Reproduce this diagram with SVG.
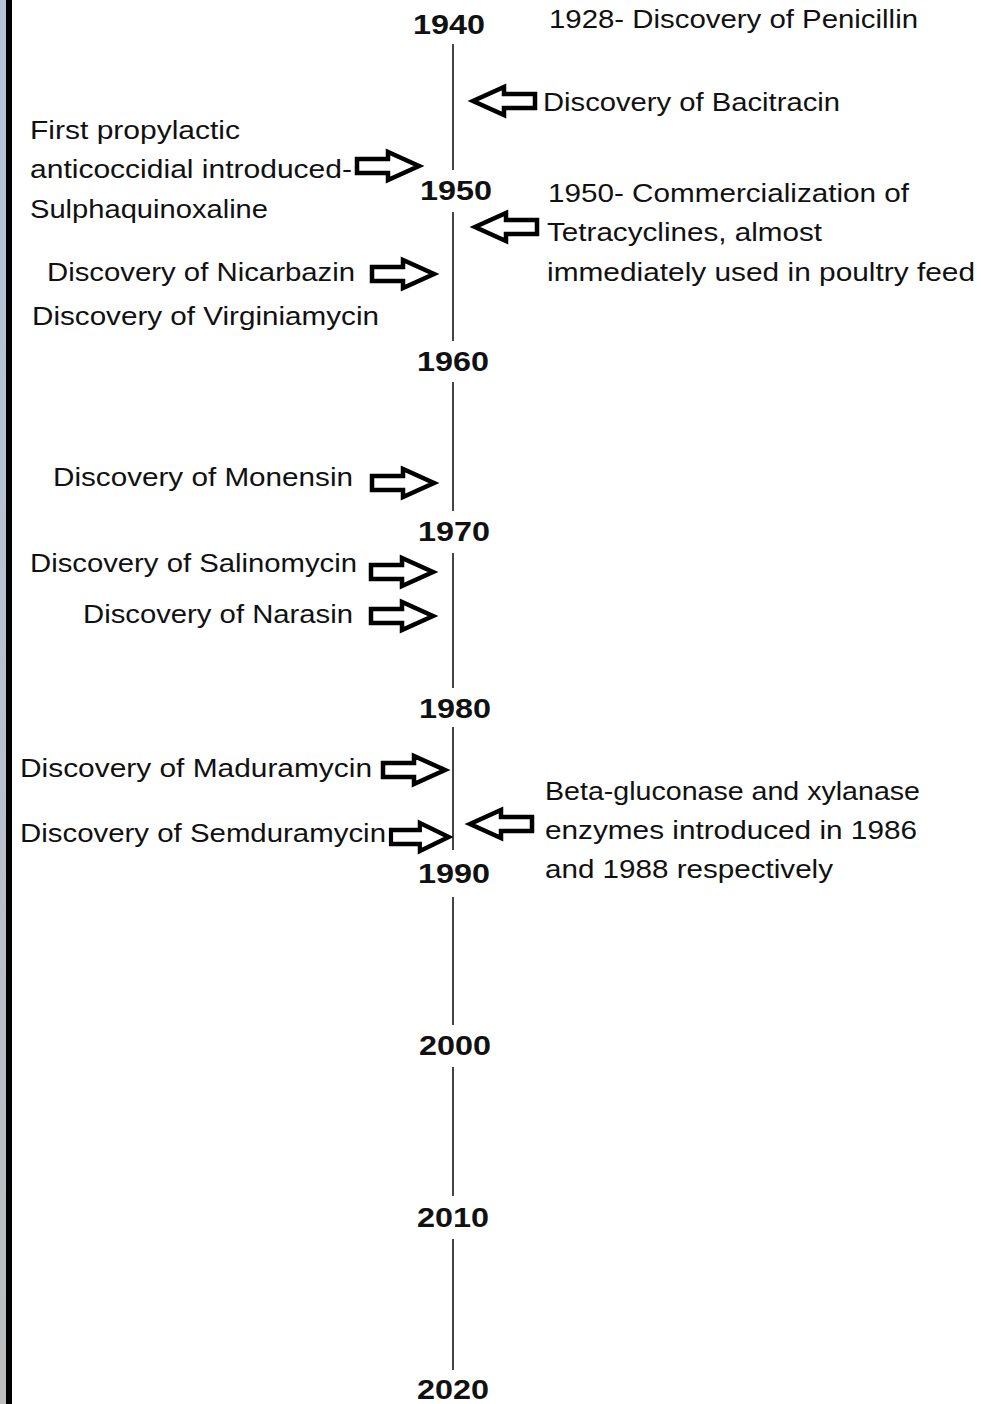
<svg xmlns="http://www.w3.org/2000/svg" width="981" height="1404" viewBox="0 0 981 1404">
<defs>
<linearGradient id="edge" x1="0" y1="0" x2="0" y2="1">
<stop offset="0" stop-color="#b6c5dc"/>
<stop offset="0.5" stop-color="#b9c2cf"/>
<stop offset="1" stop-color="#bdbdbd"/>
</linearGradient>
<path id="ra" d="M0,-7 H31 V-14 L62,0 L31,14 V7 H0 Z"/>
</defs>
<style>
.t{font-family:"Liberation Sans",Arial,sans-serif;font-size:26px;fill:#111}
.y{font-family:"Liberation Sans",Arial,sans-serif;font-size:28px;font-weight:bold;fill:#111;text-anchor:middle}
.ax{stroke:#444;stroke-width:2;fill:none}
.ar{fill:#fff;stroke:#000;stroke-width:4.5;stroke-linejoin:miter}
</style>
<rect width="981" height="1404" fill="#fff"/>
<rect x="0" y="0" width="6" height="1404" fill="url(#edge)"/>
<rect x="6" y="0" width="6" height="1404" fill="#000"/>

<g id="axis">
<line class="ax" x1="453" y1="44" x2="453" y2="170"/>
<line class="ax" x1="453" y1="212" x2="453" y2="341"/>
<line class="ax" x1="453" y1="382" x2="453" y2="511"/>
<line class="ax" x1="453" y1="553" x2="453" y2="688"/>
<line class="ax" x1="453" y1="727" x2="453" y2="850"/>
<line class="ax" x1="453" y1="897" x2="453" y2="1025"/>
<line class="ax" x1="453" y1="1067" x2="453" y2="1196"/>
<line class="ax" x1="453" y1="1239" x2="453" y2="1370"/>
</g>

<g id="years">
<text class="y" x="449" y="34" textLength="72" lengthAdjust="spacingAndGlyphs">1940</text>
<text class="y" x="456" y="200" textLength="72" lengthAdjust="spacingAndGlyphs">1950</text>
<text class="y" x="453" y="371" textLength="72" lengthAdjust="spacingAndGlyphs">1960</text>
<text class="y" x="454" y="541" textLength="72" lengthAdjust="spacingAndGlyphs">1970</text>
<text class="y" x="455" y="718" textLength="72" lengthAdjust="spacingAndGlyphs">1980</text>
<text class="y" x="454" y="883" textLength="72" lengthAdjust="spacingAndGlyphs">1990</text>
<text class="y" x="455" y="1055" textLength="72" lengthAdjust="spacingAndGlyphs">2000</text>
<text class="y" x="453" y="1227" textLength="72" lengthAdjust="spacingAndGlyphs">2010</text>
<text class="y" x="453" y="1399" textLength="72" lengthAdjust="spacingAndGlyphs">2020</text>
</g>

<g id="connectors">
<use href="#ra" class="ar" transform="translate(535,101) scale(-1,1)"/>
<use href="#ra" class="ar" transform="translate(357,166)"/>
<use href="#ra" class="ar" transform="translate(537,227) scale(-1,1)"/>
<use href="#ra" class="ar" transform="translate(372,274)"/>
<use href="#ra" class="ar" transform="translate(372,483)"/>
<use href="#ra" class="ar" transform="translate(371,572)"/>
<use href="#ra" class="ar" transform="translate(371,616)"/>
<use href="#ra" class="ar" transform="translate(383,770)"/>
<use href="#ra" class="ar" transform="translate(391,837) scale(0.93,1)"/>
<use href="#ra" class="ar" transform="translate(532,824) scale(-1,1)"/>
</g>

<g id="n-penicillin"><text class="t" x="549" y="28" textLength="369" lengthAdjust="spacingAndGlyphs">1928- Discovery of Penicillin</text></g>
<g id="n-bacitracin"><text class="t" x="543" y="111" textLength="297" lengthAdjust="spacingAndGlyphs">Discovery of Bacitracin</text></g>
<g id="n-sulpha">
<text class="t" x="30" y="139" textLength="210" lengthAdjust="spacingAndGlyphs">First propylactic</text>
<text class="t" x="30" y="178" textLength="322" lengthAdjust="spacingAndGlyphs">anticoccidial introduced-</text>
<text class="t" x="30" y="218" textLength="238" lengthAdjust="spacingAndGlyphs">Sulphaquinoxaline</text>
</g>
<g id="n-tetracyclines">
<text class="t" x="548" y="202" textLength="361" lengthAdjust="spacingAndGlyphs">1950- Commercialization of</text>
<text class="t" x="547" y="241" textLength="275" lengthAdjust="spacingAndGlyphs">Tetracyclines, almost</text>
<text class="t" x="547" y="281" textLength="428" lengthAdjust="spacingAndGlyphs">immediately used in poultry feed</text>
</g>
<g id="n-nicarbazin"><text class="t" x="47" y="281" textLength="308" lengthAdjust="spacingAndGlyphs">Discovery of Nicarbazin</text></g>
<g id="n-virginiamycin"><text class="t" x="32" y="325" textLength="347" lengthAdjust="spacingAndGlyphs">Discovery of Virginiamycin</text></g>
<g id="n-monensin"><text class="t" x="53" y="486" textLength="300" lengthAdjust="spacingAndGlyphs">Discovery of Monensin</text></g>
<g id="n-salinomycin"><text class="t" x="30" y="572" textLength="327" lengthAdjust="spacingAndGlyphs">Discovery of Salinomycin</text></g>
<g id="n-narasin"><text class="t" x="83" y="623" textLength="270" lengthAdjust="spacingAndGlyphs">Discovery of Narasin</text></g>
<g id="n-maduramycin"><text class="t" x="20" y="777" textLength="352" lengthAdjust="spacingAndGlyphs">Discovery of Maduramycin</text></g>
<g id="n-semduramycin"><text class="t" x="20" y="842" textLength="366" lengthAdjust="spacingAndGlyphs">Discovery of Semduramycin</text></g>
<g id="n-enzymes">
<text class="t" x="545" y="800" textLength="375" lengthAdjust="spacingAndGlyphs">Beta-gluconase and xylanase</text>
<text class="t" x="545" y="839" textLength="372" lengthAdjust="spacingAndGlyphs">enzymes introduced in 1986</text>
<text class="t" x="545" y="878" textLength="288" lengthAdjust="spacingAndGlyphs">and 1988 respectively</text>
</g>
</svg>
